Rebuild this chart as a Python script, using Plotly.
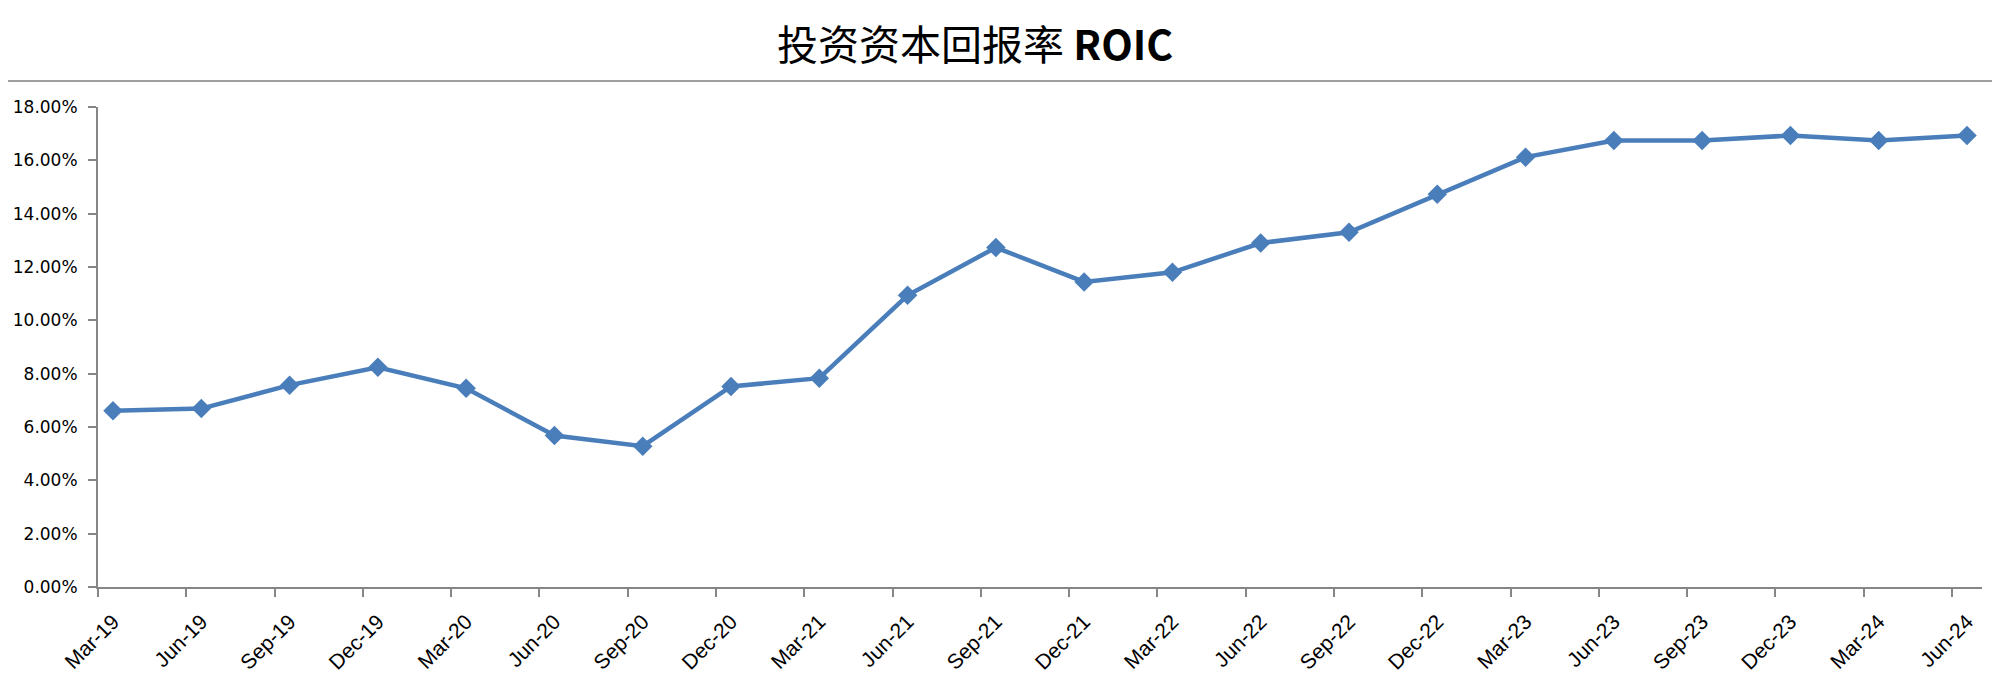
import plotly.graph_objects as go

categories = ["Mar-19", "Jun-19", "Sep-19", "Dec-19", "Mar-20", "Jun-20", "Sep-20", "Dec-20",
              "Mar-21", "Jun-21", "Sep-21", "Dec-21", "Mar-22", "Jun-22", "Sep-22", "Dec-22",
              "Mar-23", "Jun-23", "Sep-23", "Dec-23", "Mar-24", "Jun-24"]
roic = [0.0661, 0.0669, 0.0757, 0.0824, 0.0745, 0.0568, 0.0528, 0.0752,
        0.0783, 0.1094, 0.1273, 0.1144, 0.1180, 0.1290, 0.1330, 0.1473,
        0.1612, 0.1674, 0.1674, 0.1693, 0.1674, 0.1693]
y_ticks = [0, 0.02, 0.04, 0.06, 0.08, 0.10, 0.12, 0.14, 0.16, 0.18]

# the page body has an 8px margin; work in screen coordinates and shift
OFF = 8
W, H = 2000 - OFF, 681 - OFF
PL, PR, PT, PB = 98, 1982, 107, 587   # plot area in screen pixels
L, R, T, B = PL - OFF, (2000 - OFF) - (PR - OFF), PT - OFF, (681 - OFF) - (PB - OFF)
pw = W - L - R
ph = H - T - B


def px_x(sx):
    return (sx - PL) / pw


def px_y(sy):
    return (PB - sy) / ph


idx = list(range(len(categories)))
off = 0.17

fig = go.Figure()
fig.add_trace(go.Scatter(
    x=idx, y=roic, mode="lines+markers",
    line=dict(color="#4a7ebb", width=4.5),
    marker=dict(symbol="diamond", size=15, color="#4a7ebb"),
    showlegend=False, hoverinfo="skip"))

axis_gray = "#868686"
fig.update_layout(
    width=W, height=H, autosize=False,
    margin=dict(l=L, r=R, t=T, b=B),
    paper_bgcolor="white", plot_bgcolor="white",
    annotations=[dict(
        text="投资资本回报率 <b>ROIC</b>",
        xref="paper", yref="paper",
        x=px_x(975), y=px_y(42),
        xanchor="center", yanchor="middle", showarrow=False,
        font=dict(family="Noto Sans CJK SC", size=41, color="#000000"))],
    shapes=[dict(type="line", xref="paper", yref="paper",
                 x0=px_x(0), x1=px_x(2000),
                 y0=px_y(81), y1=px_y(81),
                 line=dict(color="#a0a0a0", width=2))],
    xaxis=dict(
        range=[-off, len(categories) - 1 + off],
        tickmode="array", tickvals=idx, ticktext=categories,
        tickangle=-45, ticks="", automargin=False, ticklabelstandoff=12,
        tickfont=dict(family="Liberation Sans", size=21, color="#000000"),
        showline=True, linecolor=axis_gray, linewidth=2,
        showgrid=False, zeroline=False,
        minor=dict(tickmode="linear", tick0=-off, dtick=1, ticks="outside",
                   ticklen=8, tickwidth=2, tickcolor=axis_gray, showgrid=False)),
    yaxis=dict(
        range=[0, 0.18], tickmode="array", tickvals=y_ticks,
        tickformat=".2%", automargin=False, ticklabelstandoff=7,
        tickfont=dict(family="DejaVu Sans", size=17, color="#000000"),
        ticks="outside", ticklen=8, tickwidth=2, tickcolor=axis_gray,
        showline=True, linecolor=axis_gray, linewidth=2,
        showgrid=False, zeroline=False),
)

fig.write_html("out.html")
